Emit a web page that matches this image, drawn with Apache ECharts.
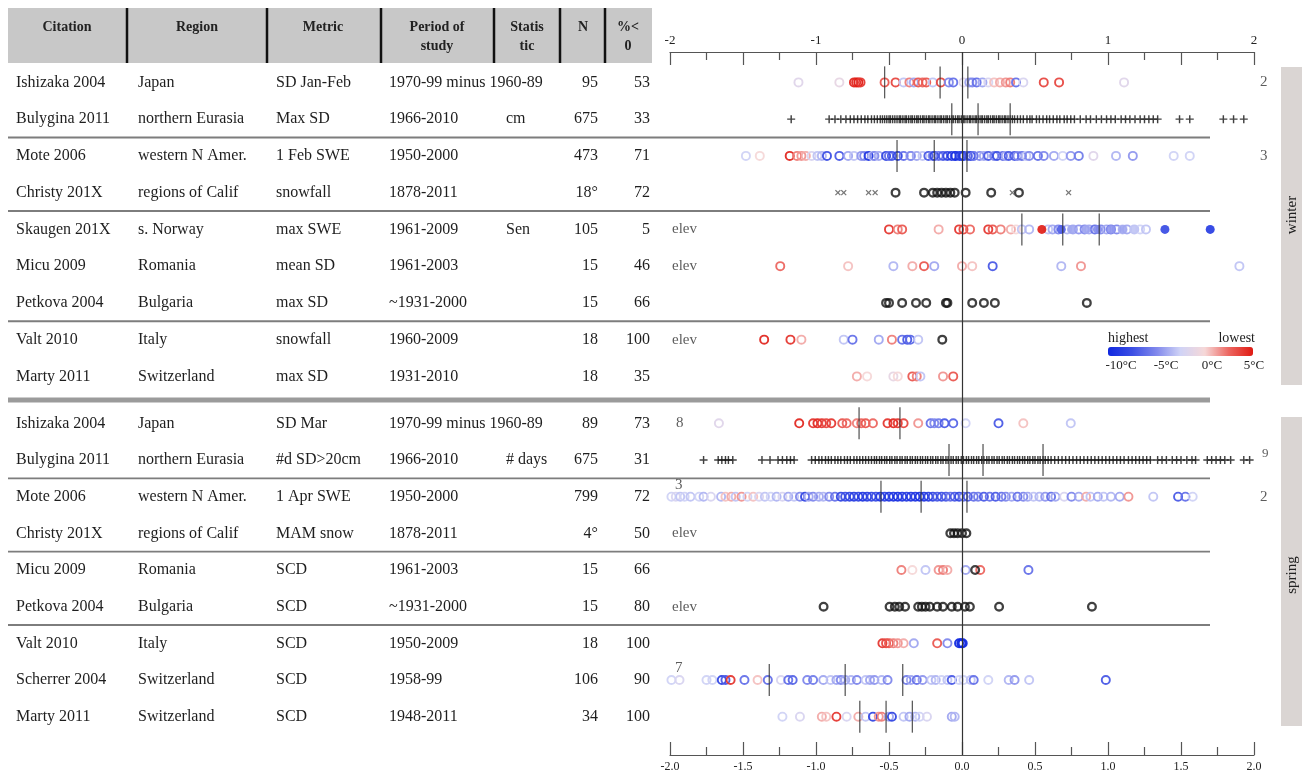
<!DOCTYPE html>
<html><head><meta charset="utf-8">
<script src="https://cdn.jsdelivr.net/npm/echarts@6/dist/echarts.min.js"></script>
<style>html,body{margin:0;padding:0;background:#fff}#c{width:1304px;height:776px}</style>
</head><body><div id="c"></div>
<script>
const FONT = '"Liberation Serif","DejaVu Serif",serif';

// ---------- table (winter) ----------
const winterCitation = ['Ishizaka 2004','Bulygina 2011','Mote 2006','Christy 201X','Skaugen 201X','Micu 2009','Petkova 2004','Valt 2010','Marty 2011'];
const winterRegion = ['Japan','northern Eurasia','western N Amer.','regions of Calif','s. Norway','Romania','Bulgaria','Italy','Switzerland'];
const winterMetric = ['SD Jan-Feb','Max SD','1 Feb SWE','snowfall','max SWE','mean SD','max SD','snowfall','max SD'];
const winterPeriod = ['1970-99 minus 1960-89','1966-2010','1950-2000','1878-2011','1961-2009','1961-2003','~1931-2000','1960-2009','1931-2010'];
const winterStatistic = ['','cm','','','Sen','','','',''];
const winterN = ['95','675','473','18°','105','15','15','18','18'];
const winterPct = ['53','33','71','72','5','46','66','100','35'];
const winterBeyond = ['2','','3','','','','','',''];
const winterNote = ['','','','','elev','elev','','elev',''];

// ---------- table (spring) ----------
const springCitation = ['Ishizaka 2004','Bulygina 2011','Mote 2006','Christy 201X','Micu 2009','Petkova 2004','Valt 2010','Scherrer 2004','Marty 2011'];
const springRegion = ['Japan','northern Eurasia','western N Amer.','regions of Calif','Romania','Bulgaria','Italy','Switzerland','Switzerland'];
const springMetric = ['SD Mar','#d SD>20cm','1 Apr SWE','MAM snow','SCD','SCD','SCD','SCD','SCD'];
const springPeriod = ['1970-99 minus 1960-89','1966-2010','1950-2000','1878-2011','1961-2003','~1931-2000','1950-2009','1958-99','1948-2011'];
const springStatistic = ['','# days','','','','','','',''];
const springN = ['89','675','799','4°','15','15','18','106','34'];
const springPct = ['73','31','72','50','66','80','100','90','100'];
const springBeyond = ['','9','2','','','','','',''];
const springNote = ['8','','3','elev','','elev','','7',''];
const springNoteRaised = [false,false,true,false,false,false,false,true,false];

// ---------- axis tick labels ----------
const topTickLabels = {'-2':'-2','-1':'-1','0':'0','1':'1','2':'2'};
const legendTicks = ['-10°C','-5°C','0°C','5°C'];

// ---------- winter points: [trend, temperature °C] ----------
const ishizakaWinter = [[-1.12,-1.5],[-0.84,-1],[-0.74,4.5],[-0.725,4.5],[-0.71,5],[-0.695,4],[-0.53,3],[-0.455,3.5],[-0.40,-3],[-0.36,2],[-0.33,-4],[-0.30,3],[-0.27,2.5],[-0.245,3],[-0.20,-3],[-0.145,3.5],[-0.09,-5],[-0.06,-6],[0.01,-1.5],[0.05,-4],[0.07,-5],[0.10,-6],[0.14,-4],[0.18,-2],[0.22,0.5],[0.26,1],[0.30,1.5],[0.33,2],[0.37,-6],[0.42,-2],[0.56,3.5],[0.665,3.5],[1.11,-1.5]];
const moteWinter = [[-1.48,-2.5],[-1.385,0],[-1.18,4.5],[-1.13,2],[-1.10,1.5],[-1.07,1],[-1.03,-2],[-0.99,-3],[-0.96,-3.5],[-0.925,-7.5],[-0.84,-7],[-0.78,-4],[-0.74,-3],[-0.69,-4.5],[-0.67,-5],[-0.64,-9],[-0.61,-3],[-0.60,-5],[-0.57,-4],[-0.52,-8],[-0.50,-6],[-0.48,-7],[-0.44,-8],[-0.40,-6],[-0.355,-3.5],[-0.35,-5],[-0.31,-4],[-0.27,-3],[-0.23,-7],[-0.20,-5],[-0.19,-8],[-0.16,-6],[-0.13,-7],[-0.10,-8],[-0.07,-9],[-0.05,-6],[-0.045,-9.5],[-0.017,-9],[0.0,-8],[0.01,-9],[0.04,-7],[0.06,-8],[0.08,-6],[0.12,-5],[0.15,-4],[0.18,-7],[0.22,-5],[0.24,-7.5],[0.28,-6],[0.30,-4],[0.32,-7],[0.36,-7],[0.38,-5],[0.41,-6],[0.44,-3],[0.46,-5],[0.52,-6],[0.56,-5],[0.63,-4],[0.69,-2.5],[0.745,-4.5],[0.80,-5.5],[0.90,-1.5],[1.055,-3.5],[1.17,-4.5],[1.45,-2.5],[1.56,-2.5]];
const skaugenWinter = [[-0.50,4],[-0.44,2],[-0.41,3],[-0.16,1],[-0.02,4],[0.01,3.5],[0.055,2.5],[0.18,4],[0.21,3],[0.265,2],[0.335,1],[0.37,0],[0.41,-3],[0.46,-3.5],[0.59,-3],[0.62,-4],[0.66,-5],[0.72,-3.5],[0.76,-4],[0.80,-4.5],[0.84,-5],[0.87,-4],[0.91,-6],[0.95,-5],[0.99,-4],[1.02,-6],[1.06,-5],[1.10,-3],[1.13,-4],[1.18,-3],[1.22,-2.5],[1.26,-3]];
const skaugenWinterFilled = [[0.547,5],[0.68,-7],[0.75,-4],[0.85,-4],[0.93,-5],[1.02,-4.5],[1.10,-4],[1.18,-3],[1.39,-8],[1.70,-9]];
const micuWinter = [[-1.245,2.5],[-0.78,0.5],[-0.47,-3.5],[-0.34,1],[-0.26,3],[-0.19,-4],[0.0,1],[0.07,0.5],[0.21,-7],[0.68,-3.5],[0.815,1.5],[1.90,-3]];
const valtWinter = [[-1.355,4.5],[-1.175,4],[-1.10,1],[-0.81,-3],[-0.75,-6],[-0.57,-4],[-0.48,2],[-0.41,-6],[-0.375,-7],[-0.355,-6.5],[-0.30,-3]];
const martyWinter = [[-0.72,1],[-0.65,0],[-0.47,-1],[-0.44,0],[-0.34,3],[-0.31,2],[-0.285,-3],[-0.13,1.5],[-0.06,3]];
const christyWinterBlack = [-0.455,-0.26,-0.20,-0.17,-0.14,-0.11,-0.08,-0.05,0.025,0.20,0.39];
const christyWinterCross = [-0.85,-0.81,-0.64,-0.595,0.345,0.73];
const petkovaWinterBlack = [-0.52,-0.50,-0.41,-0.315,-0.245,-0.11,-0.10,0.07,0.15,0.225,0.855];
const valtWinterBlack = [-0.135];
const bulyginaWinter = [-1.17,-0.91,-0.87,-0.83,-0.795,-0.765,-0.74,-0.715,-0.69,-0.665,-0.645,-0.62,-0.60,-0.58,-0.56,-0.545,-0.53,-0.515,-0.50,-0.49,-0.475,-0.46,-0.445,-0.43,-0.42,-0.405,-0.39,-0.38,-0.365,-0.35,-0.34,-0.325,-0.31,-0.30,-0.285,-0.27,-0.26,-0.245,-0.23,-0.22,-0.205,-0.19,-0.18,-0.165,-0.15,-0.14,-0.125,-0.11,-0.10,-0.085,-0.07,-0.06,-0.045,-0.03,-0.02,-0.005,0.01,0.02,0.035,0.05,0.06,0.075,0.09,0.10,0.115,0.13,0.14,0.155,0.17,0.18,0.195,0.21,0.22,0.235,0.25,0.26,0.275,0.29,0.30,0.315,0.33,0.345,0.36,0.38,0.40,0.42,0.445,0.465,0.48,0.51,0.53,0.555,0.58,0.60,0.625,0.65,0.67,0.70,0.72,0.745,0.77,0.81,0.85,0.88,0.92,0.955,0.99,1.02,1.05,1.09,1.12,1.15,1.185,1.22,1.25,1.28,1.31,1.34,1.49,1.56,1.79,1.86,1.93];
const winterQuartiles = [[-0.53,-0.15,0.04],[-0.07,0.11,0.33],[-0.445,-0.19,0.034],[],[0.41,0.69,0.94],[],[],[],[]];

// ---------- spring points ----------
const ishizakaSpring = [[-1.665,-1.5],[-1.115,4.5],[-1.02,4],[-0.99,4.5],[-0.96,4],[-0.93,3.5],[-0.895,4],[-0.82,3],[-0.79,2.5],[-0.72,2],[-0.69,2.5],[-0.66,3],[-0.61,2.5],[-0.51,4],[-0.47,4.5],[-0.44,4],[-0.40,3.5],[-0.30,1.5],[-0.215,-6],[-0.19,-5],[-0.16,-5.5],[-0.12,-7],[-0.06,-6.5],[0.025,-2.5],[0.25,-7],[0.42,0.5],[0.745,-3]];
const moteSpring = [[-1.99,-2.5],[-1.96,-2],[-1.93,-3],[-1.90,-2.5],[-1.86,-3],[-1.80,-2.5],[-1.77,-3.5],[-1.72,-2],[-1.65,-3.5],[-1.62,0.5],[-1.58,1],[-1.55,-3],[-1.51,1.5],[-1.47,-2.5],[-1.43,0.5],[-1.39,-2],[-1.35,-3],[-1.31,-2.5],[-1.27,-3.5],[-1.23,-2],[-1.19,-4],[-1.15,-3],[-1.11,-5],[-1.075,-8],[-1.05,-4],[-1.02,-5],[-0.98,-4],[-0.95,-3.5],[-0.91,-5],[-0.87,-6],[-0.83,-8],[-0.80,-7.5],[-0.77,-8],[-0.74,-8.5],[-0.71,-8],[-0.68,-9],[-0.65,-8.5],[-0.62,-8],[-0.59,-7.5],[-0.56,-9],[-0.53,-8],[-0.50,-9],[-0.47,-9],[-0.44,-9.5],[-0.41,-9],[-0.38,-8.5],[-0.35,-9],[-0.32,-9],[-0.29,-9.5],[-0.26,-9],[-0.23,-8.5],[-0.20,-8],[-0.17,-7],[-0.14,-7.5],[-0.11,-7],[-0.08,-6],[-0.05,-7],[-0.02,-8],[0.01,-6],[0.04,-7],[0.08,-6],[0.11,-5.5],[0.15,-7],[0.19,-6],[0.23,-7],[0.27,-6],[0.30,-5],[0.34,-4],[0.38,-6],[0.42,-5],[0.45,-4],[0.49,-3],[0.53,-3.5],[0.57,-4.5],[0.61,-6],[0.64,-4],[0.70,-2],[0.75,-5],[0.80,-4],[0.85,1],[0.88,-3],[0.93,-4],[0.97,-3],[1.02,-3.5],[1.08,-4],[1.14,1.5],[1.31,-3],[1.48,-7],[1.53,-6],[1.58,-2.5]];
const micuSpring = [[-0.415,2],[-0.34,0],[-0.25,-3],[-0.16,1.5],[-0.13,2],[-0.10,1],[0.025,-4],[0.125,2.5],[0.455,-6]];
const valtSpring = [[-0.545,4],[-0.52,3.5],[-0.50,3],[-0.47,2],[-0.44,1.5],[-0.40,1],[-0.33,-4],[-0.17,3],[-0.10,-5],[-0.02,-10],[-0.005,-10],[0.005,-10]];
const scherrerSpring = [[-1.99,-2.5],[-1.935,-2],[-1.75,-2.5],[-1.71,-2.5],[-1.645,-8],[-1.62,-7],[-1.585,4],[-1.49,-6],[-1.40,0.5],[-1.33,-6],[-1.24,-2],[-1.19,-6],[-1.16,-6.5],[-1.06,-5],[-1.02,-5.5],[-0.95,-4],[-0.90,-3],[-0.86,-4],[-0.83,-5],[-0.80,-4],[-0.76,-3.5],[-0.72,-5],[-0.66,-3],[-0.63,-4],[-0.60,-4.5],[-0.55,-3.5],[-0.51,-5],[-0.38,-5.5],[-0.35,-4],[-0.31,-6],[-0.27,-4.5],[-0.21,-3],[-0.18,-3.5],[-0.14,-2.5],[-0.10,-3],[-0.07,-7],[-0.02,-2.5],[0.01,-2.5],[0.06,-3],[0.08,-6],[0.18,-2.5],[0.32,-3.5],[0.36,-4.5],[0.46,-3],[0.985,-7]];
const martySpring = [[-1.23,-2.5],[-1.11,-2],[-0.96,1],[-0.93,0.5],[-0.86,4],[-0.79,-2],[-0.71,1],[-0.66,-3],[-0.61,-8],[-0.57,1.5],[-0.55,2],[-0.50,-4],[-0.48,-8],[-0.40,-3],[-0.36,-4],[-0.32,-3.5],[-0.29,-2.5],[-0.24,-2],[-0.07,-4],[-0.05,-3.5]];
const christySpringBlack = [-0.08,-0.055,-0.03,0.0,0.03];
const micuSpringBlack = [0.09];
const petkovaSpringBlack = [-0.948,-0.496,-0.46,-0.43,-0.39,-0.30,-0.275,-0.25,-0.22,-0.17,-0.13,-0.07,-0.03,0.02,0.054,0.254,0.89];
const bulyginaSpring = [-1.77,-1.67,-1.645,-1.62,-1.60,-1.57,-1.37,-1.315,-1.26,-1.23,-1.20,-1.175,-1.15,-1.03,-1.005,-0.98,-0.96,-0.935,-0.915,-0.895,-0.87,-0.85,-0.83,-0.805,-0.785,-0.765,-0.74,-0.72,-0.70,-0.68,-0.66,-0.64,-0.62,-0.60,-0.585,-0.565,-0.55,-0.53,-0.515,-0.495,-0.48,-0.46,-0.445,-0.425,-0.41,-0.39,-0.375,-0.355,-0.34,-0.32,-0.305,-0.285,-0.27,-0.25,-0.235,-0.215,-0.20,-0.18,-0.165,-0.145,-0.13,-0.11,-0.095,-0.075,-0.06,-0.04,-0.025,-0.005,0.01,0.03,0.045,0.065,0.08,0.10,0.115,0.135,0.15,0.17,0.185,0.205,0.22,0.24,0.255,0.275,0.29,0.31,0.325,0.345,0.36,0.38,0.395,0.415,0.43,0.45,0.465,0.485,0.50,0.52,0.535,0.555,0.57,0.59,0.61,0.635,0.66,0.685,0.71,0.735,0.76,0.785,0.81,0.835,0.86,0.885,0.91,0.935,0.96,0.985,1.01,1.035,1.06,1.085,1.11,1.14,1.165,1.19,1.215,1.24,1.265,1.29,1.34,1.37,1.40,1.44,1.47,1.50,1.54,1.575,1.60,1.68,1.71,1.74,1.77,1.80,1.84,1.93,1.97];
const springQuartiles = [[-0.705,-0.425],[-0.089,0.144,0.555],[-0.555,-0.28,0.034],[],[],[],[],[-1.32,-0.80,-0.406],[-0.70,-0.52,-0.34]];

// ---------- assemble per row ----------
const winterColoredRows = [ishizakaWinter, [], moteWinter, [], skaugenWinter, micuWinter, [], valtWinter, martyWinter];
const winterFilledRows = [[], [], [], [], skaugenWinterFilled, [], [], [], []];
const winterBlackRows = [[], [], [], christyWinterBlack, [], [], petkovaWinterBlack, valtWinterBlack, []];
const winterCrossRows = [[], [], [], christyWinterCross, [], [], [], [], []];
const winterPlusRows = [[], bulyginaWinter, [], [], [], [], [], [], []];
const springColoredRows = [ishizakaSpring, [], moteSpring, [], micuSpring, [], valtSpring, scherrerSpring, martySpring];
const springBlackRows = [[], [], [], christySpringBlack, micuSpringBlack, petkovaSpringBlack, [], [], []];
const springPlusRows = [[], bulyginaSpring, [], [], [], [], [], [], []];

function withTemp(rows){const o=[];rows.forEach((r,i)=>r.forEach(p=>o.push([p[0],i,p[1]])));return o;}
function plain(rows){const o=[];rows.forEach((r,i)=>r.forEach(v=>o.push([v,i])));return o;}

const PLUS = 'path://M4.1,0H5.9V4.1H10V5.9H5.9V10H4.1V5.9H0V4.1H4.1Z';
const RING = 'path://M5,0A5,5,0,1,1,5,10A5,5,0,1,1,5,0ZM5,1.9A3.1,3.1,0,1,0,5,8.1A3.1,3.1,0,1,0,5,1.9Z';
const RING_BOLD = 'path://M5,0A5,5,0,1,1,5,10A5,5,0,1,1,5,0ZM5,2.3A2.7,2.7,0,1,0,5,7.7A2.7,2.7,0,1,0,5,2.3Z';
const TXT = '#1e1e1e';

function richRow(t, i){
  const s = t.sta[i] || ' ';
  return '{c|'+t.cit[i]+'}{r|'+t.reg[i]+'}{m|'+t.met[i]+'}{p|'+t.per[i]+'}{s|'+s+'}{n|'+t.n[i]+'}{q|'+t.pct[i]+'}';
}
const base = {fontFamily:FONT, fontSize:16, color:TXT};
const rich = {
  c:Object.assign({width:122, align:'left'}, base),
  r:Object.assign({width:138, align:'left'}, base),
  m:Object.assign({width:113, align:'left'}, base),
  p:Object.assign({width:117, align:'left'}, base),
  s:Object.assign({width:52, align:'left'}, base),
  n:Object.assign({width:40, align:'right'}, base),
  q:Object.assign({width:52, align:'right'}, base)
};
const winterT = {cit:winterCitation, reg:winterRegion, met:winterMetric, per:winterPeriod, sta:winterStatistic, n:winterN, pct:winterPct};
const springT = {cit:springCitation, reg:springRegion, met:springMetric, per:springPeriod, sta:springStatistic, n:springN, pct:springPct};

const L = 670, R = 50;
const WT = 64, WH = 330.75, ST = 405, SH = 330;
const wRow = WH/9, sRow = SH/9;

function catAxis(grid, cats, t){
  return {gridIndex:grid, type:'category', data:cats, inverse:true,
    axisLine:{show:false}, axisTick:{show:false}, splitLine:{show:false},
    axisLabel:{interval:0, margin:20, formatter:(v,i)=>richRow(t,i), rich:rich, fontFamily:FONT, fontSize:16, color:TXT}};
}
function hiddenX(grid){return {gridIndex:grid, type:'value', min:-2, max:2, show:false};}

function noteSeries(xi, yi, notes, raised){
  const d=[]; notes.forEach((n,i)=>{ if(n){ const it={value:[-2,i]}; if(raised && raised[i]) it.label={offset:[3,-12]}; else if(n!=='elev') it.label={offset:[4,0]}; d.push(it);} });
  return {type:'scatter', xAxisIndex:xi, yAxisIndex:yi, symbolSize:0, silent:true, data:d,
    label:{show:true, position:'right', distance:2, formatter:p=>notes[p.value[1]], fontFamily:FONT, fontSize:15, color:'#333'}};
}
function beyondSeries(xi, yi, arr){
  const d=[]; arr.forEach((n,i)=>{ if(n){ const it={value:[2,i]}; if(n==='9') it.label={offset:[2,-6], fontSize:13}; d.push(it);} });
  return {type:'scatter', xAxisIndex:xi, yAxisIndex:yi, symbolSize:0, silent:true, data:d,
    label:{show:true, position:'right', distance:6, formatter:p=>arr[p.value[1]], fontFamily:FONT, fontSize:15, color:'#333'}};
}
function quartSeries(xi, yi, rows){
  return {type:'scatter', xAxisIndex:xi, yAxisIndex:yi, symbol:'rect', symbolSize:[1.3,32], silent:true, z:6,
    itemStyle:{color:'#333'}, data:plain(rows)};
}

const series = [
  {type:'scatter', xAxisIndex:0, yAxisIndex:0, data:[], silent:true,
   markLine:{silent:true, symbol:'none', label:{show:false}, lineStyle:{color:'#333', width:1.2, type:'solid'}, data:[{xAxis:0}], animation:false}},
  {type:'scatter', xAxisIndex:2, yAxisIndex:1, symbol:RING, symbolSize:10, silent:true, z:3, itemStyle:{opacity:0.95}, data:withTemp(winterColoredRows)},
  {type:'scatter', xAxisIndex:2, yAxisIndex:1, symbol:'circle', symbolSize:9, silent:true, z:4, itemStyle:{opacity:0.9}, data:withTemp(winterFilledRows)},
  {type:'scatter', xAxisIndex:2, yAxisIndex:1, symbol:RING_BOLD, symbolSize:10, silent:true, z:4, itemStyle:{color:'#111'}, data:plain(winterBlackRows)},
  {type:'scatter', xAxisIndex:2, yAxisIndex:1, symbol:PLUS, symbolRotate:45, symbolSize:7, silent:true, z:4, itemStyle:{color:'#555'}, data:plain(winterCrossRows)},
  {type:'scatter', xAxisIndex:2, yAxisIndex:1, symbol:PLUS, symbolSize:8, silent:true, z:4, itemStyle:{color:'#111'}, data:plain(winterPlusRows)},
  quartSeries(2,1,winterQuartiles),
  noteSeries(2,1,winterNote,null),
  beyondSeries(2,1,winterBeyond),
  {type:'scatter', xAxisIndex:3, yAxisIndex:2, symbol:RING, symbolSize:10, silent:true, z:3, itemStyle:{opacity:0.95}, data:withTemp(springColoredRows)},
  {type:'scatter', xAxisIndex:3, yAxisIndex:2, symbol:RING_BOLD, symbolSize:10, silent:true, z:4, itemStyle:{color:'#111'}, data:plain(springBlackRows)},
  {type:'scatter', xAxisIndex:3, yAxisIndex:2, symbol:PLUS, symbolSize:8, silent:true, z:4, itemStyle:{color:'#111'}, data:plain(springPlusRows)},
  quartSeries(3,2,springQuartiles),
  noteSeries(3,2,springNote,springNoteRaised),
  beyondSeries(3,2,springBeyond)
];

const axisCommon = {type:'value', min:-2, max:2, interval:0.5, gridIndex:0,
  axisLine:{show:true, onZero:false, lineStyle:{color:'#555', width:1.2}},
  axisTick:{show:true, inside:true, length:13, lineStyle:{color:'#555', width:1.2}},
  minorTick:{show:true, splitNumber:2, length:8, lineStyle:{color:'#555', width:1.2}},
  splitLine:{show:false}, minorSplitLine:{show:false}};

// ---------- decoration ----------
const g = [];
g.push({type:'rect', shape:{x:8,y:8,width:644,height:55}, style:{fill:'#c8c8c8'}, z:0});
[127,267,381,494,560,605].forEach(x=>g.push({type:'line', shape:{x1:x,y1:8,x2:x,y2:63}, style:{stroke:'#111', lineWidth:2.5}, z:1}));
const headers = [['Citation',67],['Region',197],['Metric',323],['Period of\nstudy',437],['Statis\ntic',527],['N',583],['%<\n0',628]];
headers.forEach(h=>{
  const two = h[0].indexOf('\n')>=0;
  g.push({type:'text', x:h[1], y: two?36.5:27, z:2, style:{text:h[0], fill:'#222', font:'bold 14px '+FONT, align:'center', verticalAlign:'middle', lineHeight:19}});
});
function hline(y,w,c){g.push({type:'line', shape:{x1:8,y1:y,x2:1210,y2:y}, style:{stroke:c, lineWidth:w}, z:1});}
[2,4,7].forEach(k=>hline(WT+k*wRow,1.8,'#7d7d7d'));
hline((WT+WH+ST)/2,5,'#9b9b9b');
[2,4,6].forEach(k=>hline(ST+k*sRow,1.8,'#7d7d7d'));
g.push({type:'rect', shape:{x:1281,y:67,width:21,height:318}, style:{fill:'#dad5d3'}, z:0});
g.push({type:'rect', shape:{x:1281,y:417,width:21,height:309}, style:{fill:'#dad5d3'}, z:0});
g.push({type:'text', x:1292, y:215, rotation:Math.PI/2, z:2, style:{text:'winter', fill:'#222', font:'15px '+FONT, align:'center', verticalAlign:'middle'}});
g.push({type:'text', x:1292, y:575, rotation:Math.PI/2, z:2, style:{text:'spring', fill:'#222', font:'15px '+FONT, align:'center', verticalAlign:'middle'}});
g.push({type:'text', x:1108, y:338, z:2, style:{text:'highest', fill:'#222', font:'14px '+FONT, align:'left', verticalAlign:'middle'}});
g.push({type:'text', x:1255, y:338, z:2, style:{text:'lowest', fill:'#222', font:'14px '+FONT, align:'right', verticalAlign:'middle'}});
[1121,1166,1212,1254].forEach((x,i)=>g.push({type:'text', x:x, y:366, z:2, style:{text:legendTicks[i], fill:'#222', font:'13px '+FONT, align:'center', verticalAlign:'middle'}}));

const option = {
  animation:false,
  backgroundColor:'#fff',
  grid:[
    {left:L, right:R, top:52, bottom:21},
    {left:L, right:R, top:WT, height:WH},
    {left:L, right:R, top:ST, height:SH}
  ],
  xAxis:[
    Object.assign({}, axisCommon, {position:'top', axisLabel:{margin:5, formatter:v=>topTickLabels[String(v)]||'', fontFamily:FONT, fontSize:13, color:'#222'}}),
    Object.assign({}, axisCommon, {position:'bottom', axisLabel:{margin:6, formatter:v=>v.toFixed(1), fontFamily:FONT, fontSize:12, color:'#222'}}),
    hiddenX(1), hiddenX(2)
  ],
  yAxis:[
    {gridIndex:0, type:'value', min:0, max:1, show:false},
    catAxis(1, winterCitation, winterT),
    catAxis(2, springCitation, springT)
  ],
  visualMap:[{
    type:'continuous', min:-10, max:5, dimension:2, seriesIndex:[1,2,9],
    orient:'horizontal', left:1108, top:347, itemWidth:9, itemHeight:145, padding:0,
    calculable:false, hoverLink:false, realtime:false,
    inRange:{color:['#1028e0','#3c4fe4','#8088ec','#d0d3f6','#f6d8d8','#ec6660','#e01a12']}
  }],
  graphic:g,
  series:series
};
const chart = echarts.init(document.getElementById('c'));
chart.setOption(option);
</script></body></html>
